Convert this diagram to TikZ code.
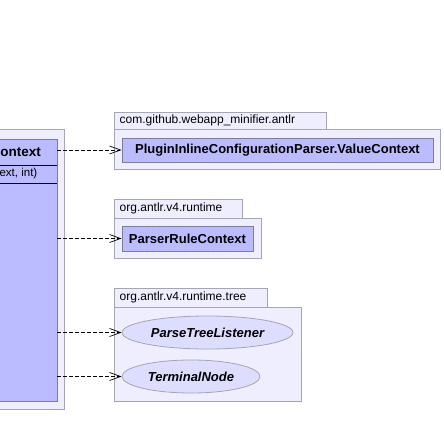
\documentclass[tikz,border=0pt]{standalone}
\usepackage{fontspec}
\setmainfont{Liberation Sans}
\usetikzlibrary{arrows.meta,shapes.geometric}
\definecolor{pkgfill}{RGB}{238,238,255}
\definecolor{pkgline}{RGB}{165,165,180}
\definecolor{clsfill}{RGB}{187,187,255}
\definecolor{clsline}{RGB}{125,125,155}
\definecolor{ifill}{RGB}{221,221,255}
\tikzset{
  pkg/.style={draw=pkgline,fill=pkgfill,line width=0.9pt},
  cls/.style={draw=clsline,fill=clsfill,line width=0.9pt,rectangle,inner sep=0pt,font=\fontsize{13}{15}\selectfont\bfseries},
  iface/.style={draw=pkgline,fill=ifill,line width=0.8pt,ellipse,inner sep=0pt,font=\fontsize{13}{15}\selectfont\bfseries\itshape},
  tabtext/.style={anchor=west,inner sep=0pt,font=\fontsize{12}{14}\selectfont},
  dep/.style={draw=black,line width=0.7pt,dash pattern=on 4pt off 2pt,-{Straight Barb[length=11pt,width=8pt]}}
}
\begin{document}
\begin{tikzpicture}[x=1pt,y=-1pt]
\useasboundingbox (0,0) rectangle (444,447);
\fill[white] (0,0) rectangle (444,447);
\clip (0,0) rectangle (444,447);
% left package and class
\draw[pkg] (-20,129) rectangle (64,409);
\node[cls,minimum width=87pt,minimum height=262pt] (lc) at (13.5,270) {};
\draw[black,line width=0.8pt] (lc.west |- 0,165) -- (lc.east |- 0,165);
\draw[black,line width=0.8pt] (lc.west |- 0,183) -- (lc.east |- 0,183);
\node[anchor=east,inner sep=0pt,font=\fontsize{13.5}{16}\selectfont\bfseries] (lct) at (41,152) {ontext};
\node[anchor=east,inner sep=0pt,font=\fontsize{11.5}{13}\selectfont] (lcm) at (37.5,174) {ext, int)};
% com.github package
\draw[pkg] (114,112) rectangle (326,129);
\draw[pkg] (114,129) rectangle (440,169);
\node[tabtext] (t1) at (119.5,120.5) {com.github.webapp\_minifier.antlr};
\node[cls,minimum width=311pt,minimum height=24pt] (pv) at (277.5,150) {PluginInlineConfigurationParser.ValueContext};
% runtime package
\draw[pkg] (114,199) rectangle (242,218);
\draw[pkg] (114,218) rectangle (261,258);
\node[tabtext] (t2) at (119.5,208.5) {org.antlr.v4.runtime};
\node[cls,minimum width=131pt,minimum height=25pt] (prc) at (187.5,238.5) {ParserRuleContext};
% tree package
\draw[pkg] (114,288) rectangle (267,307);
\draw[pkg] (114,307) rectangle (301,401);
\node[tabtext] (t3) at (119.5,297.5) {org.antlr.v4.runtime.tree};
\node[iface,minimum width=171pt,minimum height=33pt] (ptl) at (207.5,332.5) {ParseTreeListener};
\node[iface,minimum width=138pt,minimum height=33pt] (tn) at (191,376.5) {TerminalNode};
% dependencies
\draw[dep] (lc.east |- pv.west) -- (pv.west);
\draw[dep] (lc.east |- prc.west) -- (prc.west);
\draw[dep] (lc.east |- ptl.west) -- (ptl.west);
\draw[dep] (lc.east |- tn.west) -- (tn.west);
\end{tikzpicture}
\end{document}
